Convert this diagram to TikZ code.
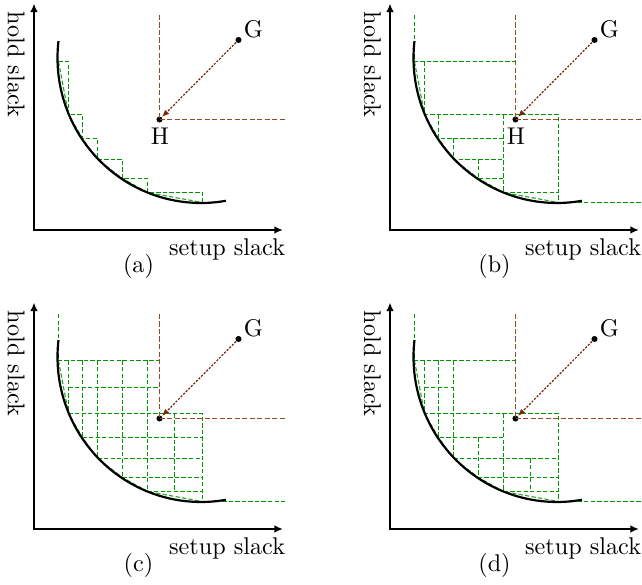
\documentclass[tikz,border=0pt]{standalone}
\usetikzlibrary{arrows.meta}
\definecolor{gr}{RGB}{0,150,0}
\definecolor{chordc}{RGB}{30,165,30}
\definecolor{br}{RGB}{150,75,35}
\definecolor{ar}{RGB}{115,40,10}
\tikzset{
  axis/.style={line width=0.75pt, {Latex[length=3.6pt,width=3.2pt]}-{Latex[length=3.6pt,width=3.2pt]}},
  front/.style={line width=0.9pt},
  grn/.style={draw=gr, line width=0.5pt, dash pattern=on 1.8pt off 0.9pt},
  chord/.style={draw=chordc, line width=0.45pt, dash pattern=on 1.8pt off 0.9pt},
  hline/.style={draw=br, line width=0.55pt, dash pattern=on 2.2pt off 0.9pt},
  garrow/.style={draw=ar, line width=0.5pt, dash pattern=on 0.9pt off 0.6pt, -{Latex[length=3pt,width=2.4pt]}},
  dot/.style={circle, fill=black, inner sep=0pt, minimum size=2.5pt},
  lbl/.style={inner sep=0pt},
}
\newcommand\panelback[1]{%
  \coordinate (O) at (34,230);
  \coordinate (Ytip) at (34,3.5);
  \coordinate (Xtip) at (283,230);
  \draw[axis] (Ytip) -- (O) -- (Xtip);
  \node[lbl, rotate=-90, anchor=base west] (ylab) at (8,11.5) {hold slack};
  \node[lbl, anchor=base east] (xlab) at (285.5,255.3) {setup slack};
  \node[lbl, anchor=base] (cap) at (138.5,273) {#1};
  \coordinate (P0) at (58.5,61.5);
  \coordinate (P1) at (68.5,114.5);
  \coordinate (P2) at (82.5,138.5);
  \coordinate (P3) at (97.5,159.5);
  \coordinate (P4) at (122.5,178.5);
  \coordinate (P5) at (147.5,192.5);
  \coordinate (P6) at (202.5,202.5);
  \coordinate (Q) at (174.5,88.5);
  \coordinate (P0top) at (58.5,15);
  \coordinate (Xext) at (284.5,202.5);
  \coordinate (Htop) at (159.5,15);
  \coordinate (Hright) at (285,119.5);
}
\newcommand\panelfront{%
  \draw[chord] (P0) -- (P1) -- (P2) -- (P3) -- (P4) -- (P5) -- (P6);
  \draw[front] plot[domain=-6.7:100, samples=90, smooth] ({201-143.5*cos(\x)}, {58+145*sin(\x)});
  \node[dot] (G) at (238.5,40) {};
  \node[lbl, anchor=base west] (Gl) at (243.5,37.3) {G};
  \node[dot] (H) at (159.5,119.5) {};
  \draw[hline] (Htop) -- (H.center);
  \draw[hline] (H.center) -- (Hright);
  \draw[garrow] (G) -- (H);
}
\begin{document}
\begin{tikzpicture}[x=0.4132pt, y=-0.4132pt]
\useasboundingbox (0,0) rectangle (642,585);
% (a)
\begin{scope}[name prefix=a-]
  \panelback{(a)}
  \draw[grn] (P0) -| (P1) -| (P2) -| (P3) -| (P4) -| (P5) -| (P6);
  \panelfront
  \node[lbl, anchor=base] (Hl) at (160,144.3) {H};
\end{scope}
% (b)
\begin{scope}[shift={(356,0)}, name prefix=b-]
  \panelback{(b)}
  \draw[grn] (P0top) -- (P0) -- (Htop |- P0);
  \draw[grn] (P1 |- P0) -- (P1) -- (P6 |- P1) -- (P6) -- (Xext);
  \draw[grn] (P5 |- P1) -- (P5) -- (P6 |- P5);
  \draw[grn] (P2 |- P1) -- (P2) -- (P5 |- P2);
  \draw[grn] (P3 |- P2) -- (P3) -- (P5 |- P3);
  \draw[grn] (P4 |- P3) -- (P4) -- (P5 |- P4);
  \panelfront
  \node[lbl, anchor=base] (Hl) at (160,144.3) {H};
\end{scope}
% (c)
\begin{scope}[shift={(0,299)}, name prefix=c-]
  \panelback{(c)}
  \draw[grn] (P0top) -- (P0) -- (Htop |- P0);
  \draw[grn] (P1 |- Q) -- (Htop |- Q);
  \draw[grn] (P1) -- (P6 |- P1) -- (P6) -- (Xext);
  \draw[grn] (P2) -- (P6 |- P2);
  \draw[grn] (P3) -- (P6 |- P3);
  \draw[grn] (P4) -- (P6 |- P4);
  \draw[grn] (P5) -- (P6 |- P5);
  \draw[grn] (P1 |- P0) -- (P1);
  \draw[grn] (P2 |- P0) -- (P2);
  \draw[grn] (P3 |- P0) -- (P3);
  \draw[grn] (P4 |- P0) -- (P4);
  \draw[grn] (P5 |- P0) -- (P5);
  \draw[grn] (Q |- P1) -- (Q |- P5);
  \panelfront
\end{scope}
% (d)
\begin{scope}[shift={(356,299)}, name prefix=d-]
  \panelback{(d)}
  \draw[grn] (P0top) -- (P0) -- (Htop |- P0);
  \draw[grn] (P1 |- P0) -- (P1) -- (P6 |- P1) -- (P6) -- (Xext);
  \draw[grn] (P2 |- P0) -- (P2) -- (P5 |- P2);
  \draw[grn] (P3 |- P0) -- (P3) -- (P6 |- P3);
  \draw[grn] (P1 |- Q) -- (P3 |- Q);
  \draw[grn] (P5 |- P1) -- (P5) -- (P6 |- P5);
  \draw[grn] (P4 |- P2) -- (P4) -- (P6 |- P4);
  \draw[grn] (Q |- P3) -- (Q |- P5);
  \panelfront
\end{scope}
\end{tikzpicture}
\end{document}
